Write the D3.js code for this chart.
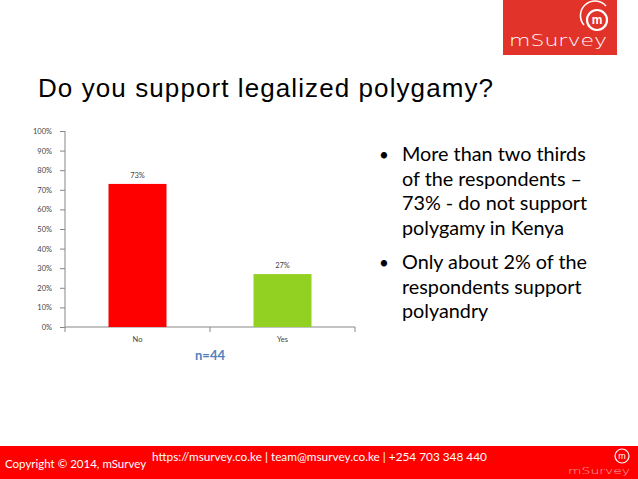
<!DOCTYPE html>
<html><head><meta charset="utf-8">
<script src="https://cdn.jsdelivr.net/npm/d3@7"></script>
<style>
html,body{margin:0;padding:0;background:#fff;}
svg{display:block;}
</style></head>
<body>
<script>
const categories = ["No", "Yes"];
const values = [73, 27];
const valueLabels = ["73%", "27%"];
const yTicks = [0, 10, 20, 30, 40, 50, 60, 70, 80, 90, 100];
const barColors = ["#FF0000", "#92D122"];
const title = "Do you support legalized polygamy?";
const sampleNote = "n=44";
const bullets = [
  ["More than two thirds", "of the respondents \u2013", "73% - do not support", "polygamy in Kenya"],
  ["Only about 2% of the", "respondents support", "polyandry"]
];
const copyright = "Copyright \u00A9 2014, mSurvey";
const contact = "https://msurvey.co.ke | team@msurvey.co.ke | +254 703 348 440";

const W = 638, H = 479;
const svg = d3.select("body").append("svg").attr("width", W).attr("height", H);
const sans = "Lato, 'Open Sans', sans-serif";

// top logo
const logo = svg.append("g");
logo.append("rect").attr("x", 503).attr("y", 0).attr("width", 114).attr("height", 55).attr("fill", "#E2332B");
logo.append("text").attr("x", 509).attr("y", 46).attr("fill", "#fff")
  .style("font-family", "'DejaVu Sans', sans-serif").style("font-size", "15px").style("font-weight", 300)
  .attr("textLength", 98).attr("lengthAdjust", "spacingAndGlyphs").text("mSurvey");
logo.append("circle").attr("cx", 597).attr("cy", 20).attr("r", 10).attr("fill", "none").attr("stroke", "#fff").attr("stroke-width", 2.2);
logo.append("path").attr("d", "M584,25 A14,14 0 0 1 606,6").attr("fill", "none").attr("stroke", "#fff").attr("stroke-width", 1.6);
logo.append("text").attr("x", 597).attr("y", 24).attr("text-anchor", "middle").attr("fill", "#fff")
  .style("font-family", "Arial, sans-serif").style("font-size", "12px").style("font-weight", "bold").text("m");

// title
svg.append("text").attr("x", 38).attr("y", 97).style("font-family", "'Liberation Sans', Arial, sans-serif")
  .style("font-size", "26px").attr("fill", "#000")
  .attr("textLength", 455).attr("lengthAdjust", "spacing").text(title);

// chart
const x = d3.scaleBand().domain(categories).range([65, 355]).paddingInner(0.6).paddingOuter(0.3);
const y = d3.scaleLinear().domain([0, 100]).range([327, 131]);

const yAxis = svg.append("g").attr("transform", "translate(65,0)")
  .call(d3.axisLeft(y).tickValues(yTicks).tickFormat(d => d + "%").tickSize(5).tickPadding(8));
yAxis.selectAll("path,line").attr("stroke", "#878787");
yAxis.select("path").attr("d", "M0,131V327");
yAxis.selectAll("text").style("font-family", sans).style("font-size", "7.5px").attr("fill", "#444");

// x axis
const xg = svg.append("g");
xg.append("line").attr("x1", 65).attr("x2", 355).attr("y1", 327).attr("y2", 327).attr("stroke", "#878787");
const bounds = [65, (x("No") + x.bandwidth() + x("Yes")) / 2, 355];
xg.selectAll("line.t").data(bounds).join("line").attr("class", "t")
  .attr("x1", d => d).attr("x2", d => d).attr("y1", 327).attr("y2", 332).attr("stroke", "#878787");
xg.selectAll("text").data(categories).join("text")
  .attr("x", d => x(d) + x.bandwidth() / 2).attr("y", 342).attr("text-anchor", "middle")
  .style("font-family", sans).style("font-size", "7.5px").attr("fill", "#444").text(d => d);

svg.selectAll("rect.bar").data(categories).join("rect").attr("class", "bar")
  .attr("x", d => x(d)).attr("width", x.bandwidth())
  .attr("y", (d, i) => y(values[i])).attr("height", (d, i) => y(0) - y(values[i]))
  .attr("fill", (d, i) => barColors[i]);
svg.selectAll("text.vl").data(categories).join("text").attr("class", "vl")
  .attr("x", d => x(d) + x.bandwidth() / 2).attr("y", (d, i) => y(values[i]) - 6)
  .attr("text-anchor", "middle").style("font-family", sans).style("font-size", "7.5px").attr("fill", "#444")
  .text((d, i) => valueLabels[i]);

svg.append("text").attr("x", 210).attr("y", 360).attr("text-anchor", "middle")
  .style("font-family", sans).style("font-size", "13px").style("font-weight", "bold").attr("fill", "#4F81BD")
  .text(sampleNote);

// bullets
let yy = 161;
bullets.forEach((lines, bi) => {
  svg.append("text").attr("x", 379).attr("y", yy).style("font-family", sans).style("font-size", "17px").text("\u2022");
  lines.forEach((ln, li) => {
    svg.append("text").attr("x", 402).attr("y", yy).style("font-family", sans).style("font-size", "19.8px").attr("fill", "#000").text(ln);
    yy += 24.5;
  });
  yy += 10;
});

// footer
svg.append("rect").attr("x", 0).attr("y", 446).attr("width", W).attr("height", 33).attr("fill", "#FF0000");
svg.append("text").attr("x", 5).attr("y", 468).attr("fill", "#fff").style("font-family", sans).style("font-size", "11.5px").text(copyright);
svg.append("text").attr("x", 152).attr("y", 461).attr("fill", "#fff").style("font-family", sans).style("font-size", "11.8px").text(contact);
svg.append("circle").attr("cx", 622).attr("cy", 456).attr("r", 7).attr("fill", "none").attr("stroke", "#fff").attr("stroke-width", 1.2);
svg.append("text").attr("x", 622).attr("y", 459).attr("text-anchor", "middle").attr("fill", "#fff")
  .style("font-family", "Arial, sans-serif").style("font-size", "9px").text("m");
svg.append("text").attr("x", 568).attr("y", 474).attr("fill", "#f3b0b0")
  .style("font-family", "'DejaVu Sans', sans-serif").style("font-size", "9px").style("font-weight", 300)
  .attr("textLength", 62).attr("lengthAdjust", "spacingAndGlyphs").text("mSurvey");
</script>
</body></html>
